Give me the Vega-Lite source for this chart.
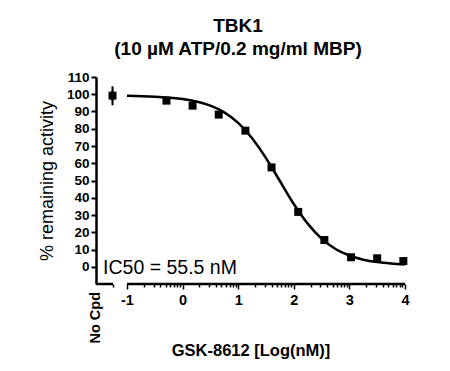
{
  "$schema": "https://vega.github.io/schema/vega-lite/v6.json",
  "width": 309,
  "height": 207,
  "autosize": "none",
  "padding": {"left": 96, "top": 77, "right": 45, "bottom": 87},
  "background": "white",
  "resolve": {"axis": {"x": "independent", "y": "independent"}},
  "config": {
    "view": {"stroke": null},
    "font": "Liberation Sans",
    "axisX": {
      "titleFont": "Liberation Sans",
      "titleFontSize": 16.5,
      "titleFontWeight": "bold",
      "titleColor": "black",
      "titlePadding": 36,
      "domain": false,
      "grid": false,
      "tickColor": "black",
      "tickWidth": 1.5,
      "labelFont": "Liberation Sans",
      "labelFontSize": 14.5,
      "labelFontWeight": "bold",
      "labelColor": "black",
      "labelPadding": 4,
      "labelOverlap": false,
      "labelFlush": false,
      "labelBound": false
    },
    "axisY": {
      "titleFont": "Liberation Sans",
      "titleFontSize": 18,
      "titleFontWeight": "normal",
      "titleColor": "black",
      "titlePadding": 10,
      "grid": false,
      "domainColor": "black",
      "domainWidth": 2.5,
      "tickColor": "black",
      "tickWidth": 2,
      "tickSize": 5,
      "labelFont": "Liberation Sans",
      "labelFontSize": 13.5,
      "labelFontWeight": "bold",
      "labelColor": "black",
      "labelPadding": 2,
      "labelOverlap": false,
      "labelFlush": false
    }
  },
  "title": {
    "text": ["TBK1", "(10 µM ATP/0.2 mg/ml MBP)"],
    "font": "Liberation Sans",
    "fontSize": 19,
    "fontWeight": "bold",
    "color": "black",
    "lineHeight": 23,
    "anchor": "middle",
    "dx": -12.5,
    "offset": -8,
    "baseline": "bottom"
  },
  "datasets": {
    "curve": [
      {"x": -1, "y": 99.1}, {"x": -0.5, "y": 98.6}, {"x": 0, "y": 97.3}, {"x": 0.25, "y": 95.8},
      {"x": 0.5, "y": 93.4}, {"x": 0.75, "y": 89.5}, {"x": 1, "y": 83.4}, {"x": 1.25, "y": 74.5},
      {"x": 1.5, "y": 63.0}, {"x": 1.75, "y": 49.7}, {"x": 2, "y": 36.4}, {"x": 2.25, "y": 25.0},
      {"x": 2.5, "y": 16.3}, {"x": 2.75, "y": 10.3}, {"x": 3, "y": 6.5}, {"x": 3.25, "y": 4.1},
      {"x": 3.5, "y": 2.7}, {"x": 3.75, "y": 1.9}, {"x": 4, "y": 1.4}
    ],
    "points": [
      {"x": -0.29, "y": 96.3}, {"x": 0.18, "y": 93.4}, {"x": 0.65, "y": 88.2}, {"x": 1.13, "y": 78.9},
      {"x": 1.6, "y": 57.6}, {"x": 2.08, "y": 31.8}, {"x": 2.55, "y": 15.5}, {"x": 3.03, "y": 5.5},
      {"x": 3.5, "y": 4.9}, {"x": 3.97, "y": 3.3}
    ],
    "nocpd": [{"x": -1.26, "y": 99.2, "lo": 95.9, "hi": 102.3}],
    "segments": [{"x": -1.557, "x2": -1.25}, {"x": -1, "x2": 4}]
  },
  "layer": [
    {
      "data": {"name": "curve"},
      "mark": {"type": "line", "color": "black", "strokeWidth": 2.5, "interpolate": "monotone"},
      "encoding": {
        "x": {
          "field": "x",
          "type": "quantitative",
          "scale": {"domain": [-1.557, 4], "nice": false, "zero": false},
          "axis": {
            "title": "GSK-8612 [Log(nM)]",
            "values": [-1.25, -1, -0.69897, -0.52288, -0.39794, -0.30103, -0.22185, -0.1549, -0.09691, -0.04576,
                       0, 0.30103, 0.47712, 0.60206, 0.69897, 0.77815, 0.8451, 0.90309, 0.95424,
                       1, 1.30103, 1.47712, 1.60206, 1.69897, 1.77815, 1.8451, 1.90309, 1.95424,
                       2, 2.30103, 2.47712, 2.60206, 2.69897, 2.77815, 2.8451, 2.90309, 2.95424,
                       3, 3.30103, 3.47712, 3.60206, 3.69897, 3.77815, 3.8451, 3.90309, 3.95424, 4],
            "tickSize": {"condition": {"test": "abs(datum.value - round(datum.value)) > 0.001", "value": 3}, "value": 5},
            "labelExpr": "abs(datum.value - round(datum.value)) < 0.001 ? (datum.value < 0 ? '-' + abs(round(datum.value)) : '' + round(datum.value)) : ''"
          }
        },
        "y": {
          "field": "y",
          "type": "quantitative",
          "scale": {"domain": [-10, 110], "nice": false, "zero": false},
          "axis": {
            "title": "% remaining activity",
            "values": [0, 10, 20, 30, 40, 50, 60, 70, 80, 90, 100, 110]
          }
        }
      }
    },
    {
      "data": {"name": "segments"},
      "mark": {"type": "rule", "color": "black", "strokeWidth": 2.5},
      "encoding": {
        "x": {"field": "x", "type": "quantitative", "axis": null, "scale": {"domain": [-1.557, 4], "nice": false, "zero": false}},
        "x2": {"field": "x2"},
        "y": {"datum": -10, "type": "quantitative", "axis": null, "scale": {"domain": [-10, 110], "nice": false, "zero": false}}
      }
    },
    {
      "data": {"name": "points"},
      "mark": {"type": "point", "shape": "square", "filled": true, "color": "black", "opacity": 1, "size": 64},
      "encoding": {
        "x": {"field": "x", "type": "quantitative", "axis": null, "scale": {"domain": [-1.557, 4], "nice": false, "zero": false}},
        "y": {"field": "y", "type": "quantitative", "axis": null, "scale": {"domain": [-10, 110], "nice": false, "zero": false}}
      }
    },
    {
      "data": {"name": "nocpd"},
      "mark": {"type": "rule", "color": "black", "strokeWidth": 2},
      "encoding": {
        "x": {"field": "x", "type": "quantitative", "axis": null, "scale": {"domain": [-1.557, 4], "nice": false, "zero": false}},
        "y": {"field": "lo", "type": "quantitative", "axis": null, "scale": {"domain": [-10, 110], "nice": false, "zero": false}},
        "y2": {"field": "hi"}
      }
    },
    {
      "data": {"name": "nocpd"},
      "mark": {"type": "tick", "color": "black", "thickness": 2, "size": 8, "orient": "vertical", "opacity": 1},
      "encoding": {
        "x": {"field": "x", "type": "quantitative", "axis": null, "scale": {"domain": [-1.557, 4], "nice": false, "zero": false}},
        "y": {"field": "lo", "type": "quantitative", "axis": null, "scale": {"domain": [-10, 110], "nice": false, "zero": false}}
      }
    },
    {
      "data": {"name": "nocpd"},
      "mark": {"type": "tick", "color": "black", "thickness": 2, "size": 8, "orient": "vertical", "opacity": 1},
      "encoding": {
        "x": {"field": "x", "type": "quantitative", "axis": null, "scale": {"domain": [-1.557, 4], "nice": false, "zero": false}},
        "y": {"field": "hi", "type": "quantitative", "axis": null, "scale": {"domain": [-10, 110], "nice": false, "zero": false}}
      }
    },
    {
      "data": {"name": "nocpd"},
      "mark": {"type": "point", "shape": "square", "filled": true, "color": "black", "opacity": 1, "size": 64},
      "encoding": {
        "x": {"field": "x", "type": "quantitative", "axis": null, "scale": {"domain": [-1.557, 4], "nice": false, "zero": false}},
        "y": {"field": "y", "type": "quantitative", "axis": null, "scale": {"domain": [-10, 110], "nice": false, "zero": false}}
      }
    },
    {
      "data": {"values": [{}]},
      "mark": {"type": "text", "text": "IC50 = 55.5 nM", "font": "Liberation Sans", "fontSize": 19.5, "align": "left", "baseline": "middle", "color": "black"},
      "encoding": {
        "x": {"datum": -1.43, "type": "quantitative", "axis": null, "scale": {"domain": [-1.557, 4], "nice": false, "zero": false}},
        "y": {"datum": -0.6, "type": "quantitative", "axis": null, "scale": {"domain": [-10, 110], "nice": false, "zero": false}}
      }
    },
    {
      "data": {"values": [{}]},
      "mark": {"type": "text", "text": "No Cpd", "font": "Liberation Sans", "fontSize": 14.5, "fontWeight": "bold", "angle": 270, "align": "right", "baseline": "middle", "dx": -8, "color": "black"},
      "encoding": {
        "x": {"datum": -1.557, "type": "quantitative", "axis": null, "scale": {"domain": [-1.557, 4], "nice": false, "zero": false}},
        "y": {"datum": -10, "type": "quantitative", "axis": null, "scale": {"domain": [-10, 110], "nice": false, "zero": false}}
      }
    }
  ]
}
